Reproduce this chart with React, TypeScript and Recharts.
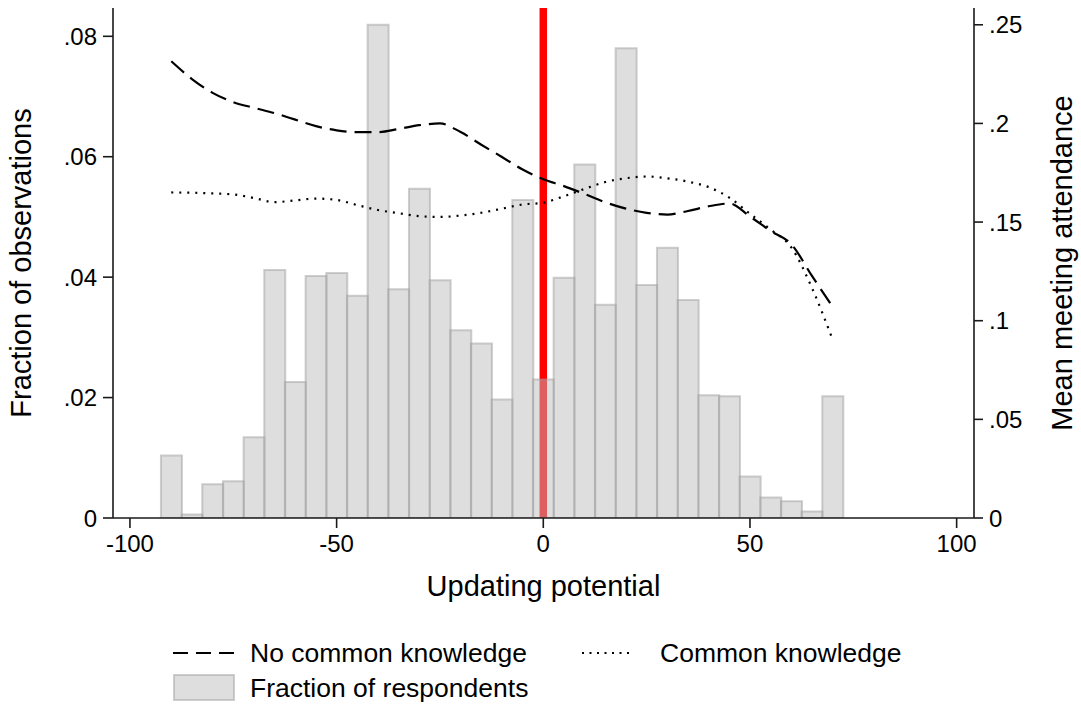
import React from 'react';
import { ComposedChart, Bar, Line, XAxis, YAxis, ReferenceLine, Legend, Label } from 'recharts';

const FONT = '"Liberation Sans", Arial, Helvetica, sans-serif';

// Bin centres of "Updating potential"
const updatingPotential = [
  -90, -85, -80, -75, -70, -65, -60, -55, -50, -45, -40, -35, -30, -25, -20, -15, -10, -5,
  0, 5, 10, 15, 20, 25, 30, 35, 40, 45, 50, 55, 60, 65, 70,
];

// Histogram: fraction of respondents (left axis)
const fractionRespondents = [
  0.0104, 0.0006, 0.0056, 0.0061, 0.0134, 0.0412, 0.0226, 0.0402, 0.0407, 0.0369, 0.0819, 0.038,
  0.0547, 0.0395, 0.0312, 0.029, 0.0197, 0.0528, 0.023, 0.0399, 0.0587, 0.0354, 0.078, 0.0387,
  0.0449, 0.0362, 0.0204, 0.0202, 0.0069, 0.0034, 0.0028, 0.0011, 0.0202,
];

// Mean meeting attendance, no common knowledge (right axis)
const noCommonKnowledge = [
  0.2315, 0.2225, 0.2155, 0.2108, 0.2079, 0.2052, 0.2019, 0.1986, 0.1965, 0.1956, 0.1956, 0.1972,
  0.1991, 0.2, 0.1956, 0.1892, 0.183, 0.1766, 0.1717, 0.1682, 0.1642, 0.16, 0.1568, 0.1547,
  0.1538, 0.1556, 0.158, 0.1594, 0.1528, 0.1455, 0.1388, 0.1227, 0.107,
];

// Mean meeting attendance, common knowledge (right axis)
const commonKnowledge = [
  0.165, 0.1649, 0.1645, 0.164, 0.1622, 0.1601, 0.161, 0.1619, 0.1612, 0.1586, 0.1561, 0.1545,
  0.153, 0.1526, 0.1533, 0.1547, 0.1568, 0.1589, 0.1598, 0.1631, 0.1668, 0.1703, 0.1722, 0.1731,
  0.1722, 0.1705, 0.1677, 0.1624, 0.1542, 0.1462, 0.1372, 0.1166, 0.0904,
];

const xTicks = [-100, -50, 0, 50, 100];
const leftTicks = [0, 0.02, 0.04, 0.06, 0.08];
const rightTicks = [0, 0.05, 0.1, 0.15, 0.2, 0.25];
const xDomain = [-104.1, 104.2];
const leftDomain = [0, 0.0847];
const rightDomain = [0, 0.2585];
const thresholdX = 0;

const labelNoCK = 'No common knowledge';
const labelCK = 'Common knowledge';
const labelBars = 'Fraction of respondents';
const xTitle = 'Updating potential';
const leftTitle = 'Fraction of observations';
const rightTitle = 'Mean meeting attendance';

const data = updatingPotential.map((x, i) => ({
  x,
  frac: fractionRespondents[i],
  nock: noCommonKnowledge[i],
  ck: commonKnowledge[i],
}));

const fmt = (v: number) => (v === 0 ? '0' : String(v).replace(/^0/, ''));

const tickStyle = { fontSize: 24, fill: '#000', fontFamily: FONT };
const axisLine = { stroke: '#1a1a1a', strokeWidth: 1.6 };
const titleStyle = { fontSize: 29, fill: '#000', fontFamily: FONT };

const LegendContent = () => (
  <svg width={1081} height={80} style={{ display: 'block' }}>
    <line x1={173} x2={234} y1={29} y2={29} stroke="#000" strokeWidth={2.2} strokeDasharray="15 8" />
    <text x={250} y={29} dominantBaseline="central" fontFamily={FONT} fontSize={26.5} fill="#000">
      {labelNoCK}
    </text>
    <line x1={582} x2={634} y1={29} y2={29} stroke="#000" strokeWidth={2} strokeDasharray="2 5.5" />
    <text x={660} y={29} dominantBaseline="central" fontFamily={FONT} fontSize={26.5} fill="#000">
      {labelCK}
    </text>
    <rect x={174} y={51} width={60} height={25} fill="#bebebe" fillOpacity={0.5} stroke="#a0a0a0" strokeOpacity={0.5} strokeWidth={2} />
    <text x={250} y={64} dominantBaseline="central" fontFamily={FONT} fontSize={26.5} fill="#000">
      {labelBars}
    </text>
  </svg>
);

export default function App() {
  return (
    <div style={{ position: 'absolute', left: 0, top: 0, width: 1081, height: 704, background: '#fff' }}>
      <ComposedChart
        width={1081}
        height={704}
        data={data}
        margin={{ top: 8, right: 0, bottom: 0, left: 0 }}
        barCategoryGap={0}
        barGap={0}
      >
        <XAxis
          dataKey="x"
          type="number"
          domain={xDomain}
          ticks={xTicks}
          allowDataOverflow
          height={106}
          tick={tickStyle}
          tickSize={10}
          tickMargin={7}
          axisLine={axisLine}
          tickLine={axisLine}
          interval={0}
        >
          <Label value={xTitle} position="insideTop" offset={57} style={titleStyle} />
        </XAxis>
        <YAxis
          yAxisId="left"
          orientation="left"
          width={113}
          domain={leftDomain}
          ticks={leftTicks}
          allowDataOverflow
          tickFormatter={fmt}
          tick={tickStyle}
          tickSize={10}
          tickMargin={6}
          axisLine={axisLine}
          tickLine={axisLine}
          interval={0}
        >
          <Label
            value={leftTitle}
            position="insideLeft"
            angle={-90}
            offset={21}
            style={{ ...titleStyle, textAnchor: 'middle' }}
          />
        </YAxis>
        <YAxis
          yAxisId="right"
          orientation="right"
          width={107}
          domain={rightDomain}
          ticks={rightTicks}
          allowDataOverflow
          tickFormatter={fmt}
          tick={tickStyle}
          tickSize={9}
          tickMargin={6}
          axisLine={axisLine}
          tickLine={axisLine}
          interval={0}
        >
          <Label
            value={rightTitle}
            position="insideRight"
            angle={-90}
            offset={19}
            style={{ ...titleStyle, textAnchor: 'middle' }}
          />
        </YAxis>
        <ReferenceLine yAxisId="left" x={thresholdX} stroke="#ff0000" strokeWidth={7.5} zIndex={250} />
        <Bar
          yAxisId="left"
          dataKey="frac"
          name={labelBars}
          fill="#bebebe"
          fillOpacity={0.5}
          stroke="#a0a0a0"
          strokeOpacity={0.5}
          strokeWidth={2}
          isAnimationActive={false}
        />
        <Line
          yAxisId="right"
          dataKey="nock"
          name={labelNoCK}
          type="monotone"
          stroke="#000"
          strokeWidth={2.2}
          strokeDasharray="17 8"
          dot={false}
          activeDot={false}
          isAnimationActive={false}
        />
        <Line
          yAxisId="right"
          dataKey="ck"
          name={labelCK}
          type="monotone"
          stroke="#000"
          strokeWidth={2.2}
          strokeDasharray="2 6"
          dot={false}
          activeDot={false}
          isAnimationActive={false}
        />
        <Legend verticalAlign="bottom" height={80} content={<LegendContent />} />
      </ComposedChart>
    </div>
  );
}
